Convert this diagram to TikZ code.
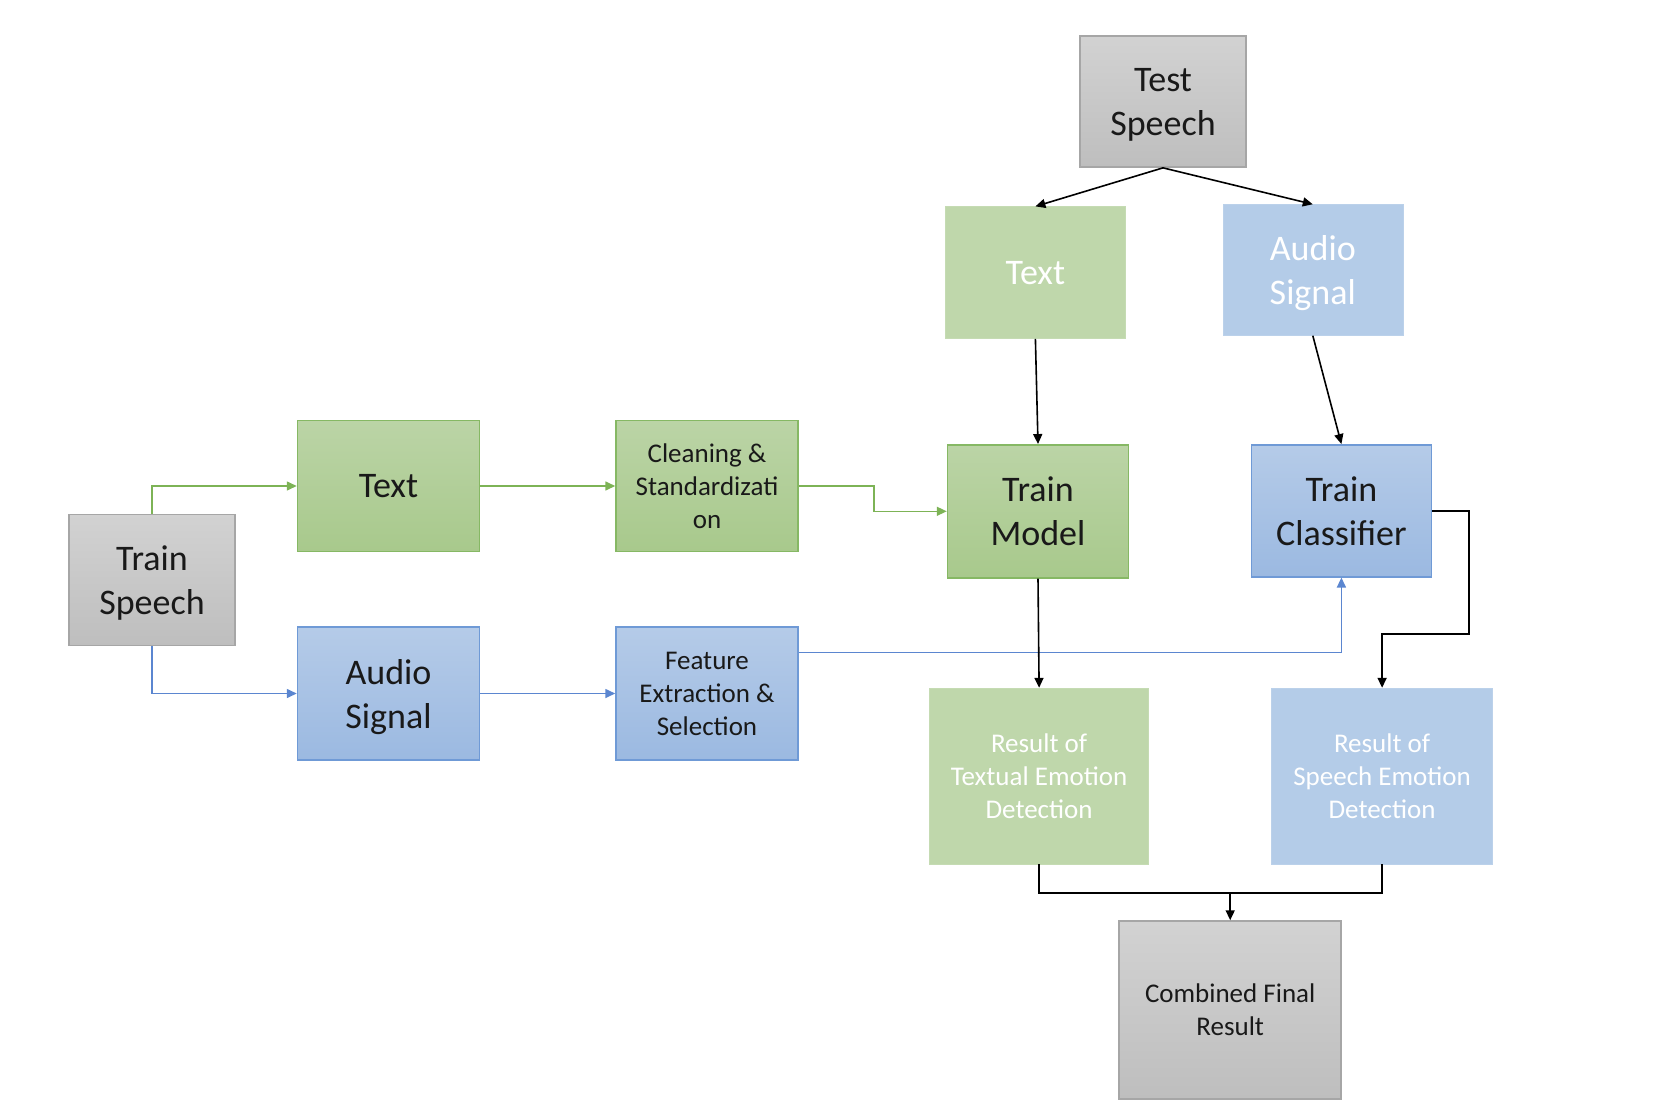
\documentclass[tikz,border=0pt]{standalone}
\usepackage{fontspec}
\setmainfont{Carlito}
\usetikzlibrary{arrows.meta,calc}
\definecolor{grayT}{HTML}{D2D2D2}
\definecolor{grayB}{HTML}{BEBEBE}
\definecolor{grayE}{HTML}{A6A6A6}
\definecolor{greenT}{HTML}{BBD4A6}
\definecolor{greenB}{HTML}{A8C98C}
\definecolor{greenE}{HTML}{86B864}
\definecolor{greenL}{HTML}{BFD7AB}
\definecolor{blueT}{HTML}{B5CBE8}
\definecolor{blueB}{HTML}{9BB9E1}
\definecolor{blueE}{HTML}{6F9AD6}
\definecolor{blueL}{HTML}{B4CCE8}
\definecolor{greenA}{HTML}{7DB356}
\definecolor{blueA}{HTML}{5B86D0}
\begin{document}
\begin{tikzpicture}[x=1pt,y=-1pt,
  box/.style={rectangle,inner sep=0pt,align=center,text=black!90},
  big/.style={font=\fontsize{36}{44}\selectfont,text depth=0pt},
  small/.style={font=\fontsize{27}{33}\selectfont},
  graybox/.style={box,top color=grayT,bottom color=grayB,draw=grayE,line width=1.5pt},
  greenbox/.style={box,top color=greenT,bottom color=greenB,draw=greenE,line width=1.5pt},
  bluebox/.style={box,top color=blueT,bottom color=blueB,draw=blueE,line width=1.5pt},
  greenflat/.style={box,fill=greenL,draw=greenL!90!white,text=white},
  blueflat/.style={box,fill=blueL,draw=blueL!90!white,text=white},
  conn/.style={line width=1.6pt,-{Triangle[length=10pt,width=9pt]}},
  bline/.style={line width=1.6pt},
]
\useasboundingbox (0,0) rectangle (1660,1116);
% train side
\node[graybox,big,minimum width=166pt,minimum height=131pt] (tspeech) at (152,580) {Train\\Speech};
\node[greenbox,big,minimum width=182pt,minimum height=131pt] (ttext) at (388.5,486) {Text};
\node[greenbox,small,minimum width=182pt,minimum height=131pt] (clean) at (707,486) {Cleaning \&\\Standardizati\\on};
\node[bluebox,big,minimum width=182pt,minimum height=133pt] (taudio) at (388.5,693.5) {Audio\\Signal};
\node[bluebox,small,minimum width=182pt,minimum height=133pt] (feat) at (707,693.5) {Feature\\Extraction \&\\Selection};
\node[greenbox,big,minimum width=181pt,minimum height=133pt] (tmodel) at (1038,511.3) {Train\\Model};
\node[bluebox,big,minimum width=180pt,minimum height=132pt] (tclass) at (1341.4,510.8) {Train\\Classifier};
% test side
\node[graybox,big,minimum width=166pt,minimum height=131pt] (xspeech) at (1163,101.6) {Test\\Speech};
\node[greenflat,big,minimum width=180pt,minimum height=132pt] (xtext) at (1035.4,272.6) {Text};
\node[blueflat,big,minimum width=180pt,minimum height=131pt] (xaudio) at (1312.8,270) {Audio\\Signal};
% results
\node[greenflat,small,minimum width=219pt,minimum height=176pt] (rtext) at (1039.1,776) {Result of\\Textual Emotion\\Detection};
\node[blueflat,small,minimum width=221pt,minimum height=176pt] (rspeech) at (1382.1,776) {Result of\\Speech Emotion\\Detection};
\node[graybox,small,minimum width=222pt,minimum height=178pt] (comb) at (1230.2,1010) {Combined Final\\Result};
% connectors (train)
\draw[conn,greenA] (tspeech.north) |- (ttext.west);
\draw[conn,blueA] (tspeech.south) |- (taudio.west);
\draw[conn,greenA] (ttext.east) -- (clean.west);
\draw[conn,blueA] (taudio.east) -- (feat.west);
\draw[conn,greenA] (clean.east) -- ++(75,0) |- (tmodel.west);
\draw[conn,blueA] ($(feat.north east)+(0,26.4)$) -| (tclass.south);
% connectors (test)
\draw[conn,black] (xspeech.south) -- (xtext.north);
\draw[conn,black] (xspeech.south) -- (xaudio.north);
\draw[conn,black] (xtext.south) -- (tmodel.north);
\draw[conn,black] (xaudio.south) -- (tclass.north);
\draw[conn,black] (tmodel.south) -- (rtext.north);
\draw[conn,black] (tclass.east) -- ++(37,0) -- ++(0,123.4) -| (rspeech.north);
\draw[bline,black] (rtext.south) -- ++(0,28.6) -| (rspeech.south);
\draw[conn,black] ($(comb.north |- rtext.south)+(0,28.6)$) -- (comb.north);
\end{tikzpicture}
\end{document}
